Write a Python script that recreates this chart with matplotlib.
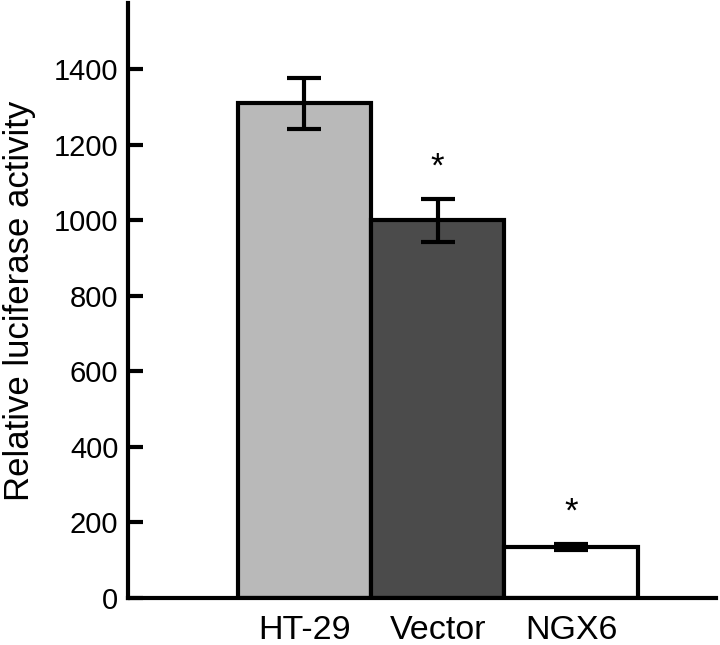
"""Relative luciferase activity — HT-29 / Vector / NGX6 bar chart."""

import matplotlib
matplotlib.use("Agg")
import matplotlib.pyplot as plt

plt.rcParams["font.family"] = ["Liberation Sans", "DejaVu Sans"]

groups = ["HT-29", "Vector", "NGX6"]
activity = [1310, 1000, 135]
errors = [67, 57, 8]
bar_colors = ["#b9b9b9", "#4b4b4b", "#ffffff"]
significant = [False, True, True]

fig = plt.figure(figsize=(7.2, 6.45), dpi=100)
ax = fig.add_axes([0.178, 0.073, 0.817, 0.922])

x = range(len(groups))
ax.bar(x, activity, width=1.0, color=bar_colors, edgecolor="black",
       linewidth=3, zorder=2)
ax.errorbar(x, activity, yerr=errors, fmt="none", ecolor="black",
            elinewidth=3, capsize=12, capthick=3, zorder=3)

# significance stars
for i, (v, e, sig) in enumerate(zip(activity, errors, significant)):
    if sig:
        ax.text(i, v + e + 85, "*", ha="center", va="center", fontsize=25)

ax.set_xlim(-1.32, 3.09)
ax.set_ylim(0, 1575)
ax.set_yticks(range(0, 1401, 200))
ax.set_xticks(list(x))
ax.set_xticklabels(groups)
ax.tick_params(axis="x", length=0, labelsize=24.5, pad=12)
ax.tick_params(axis="y", direction="in", length=11, width=3, labelsize=21, pad=7)
ax.set_ylabel("Relative luciferase activity", fontsize=25, labelpad=13)

for side in ["top", "right"]:
    ax.spines[side].set_visible(False)
for side in ["left", "bottom"]:
    ax.spines[side].set_linewidth(3)

plt.savefig("out.png", dpi=100)
